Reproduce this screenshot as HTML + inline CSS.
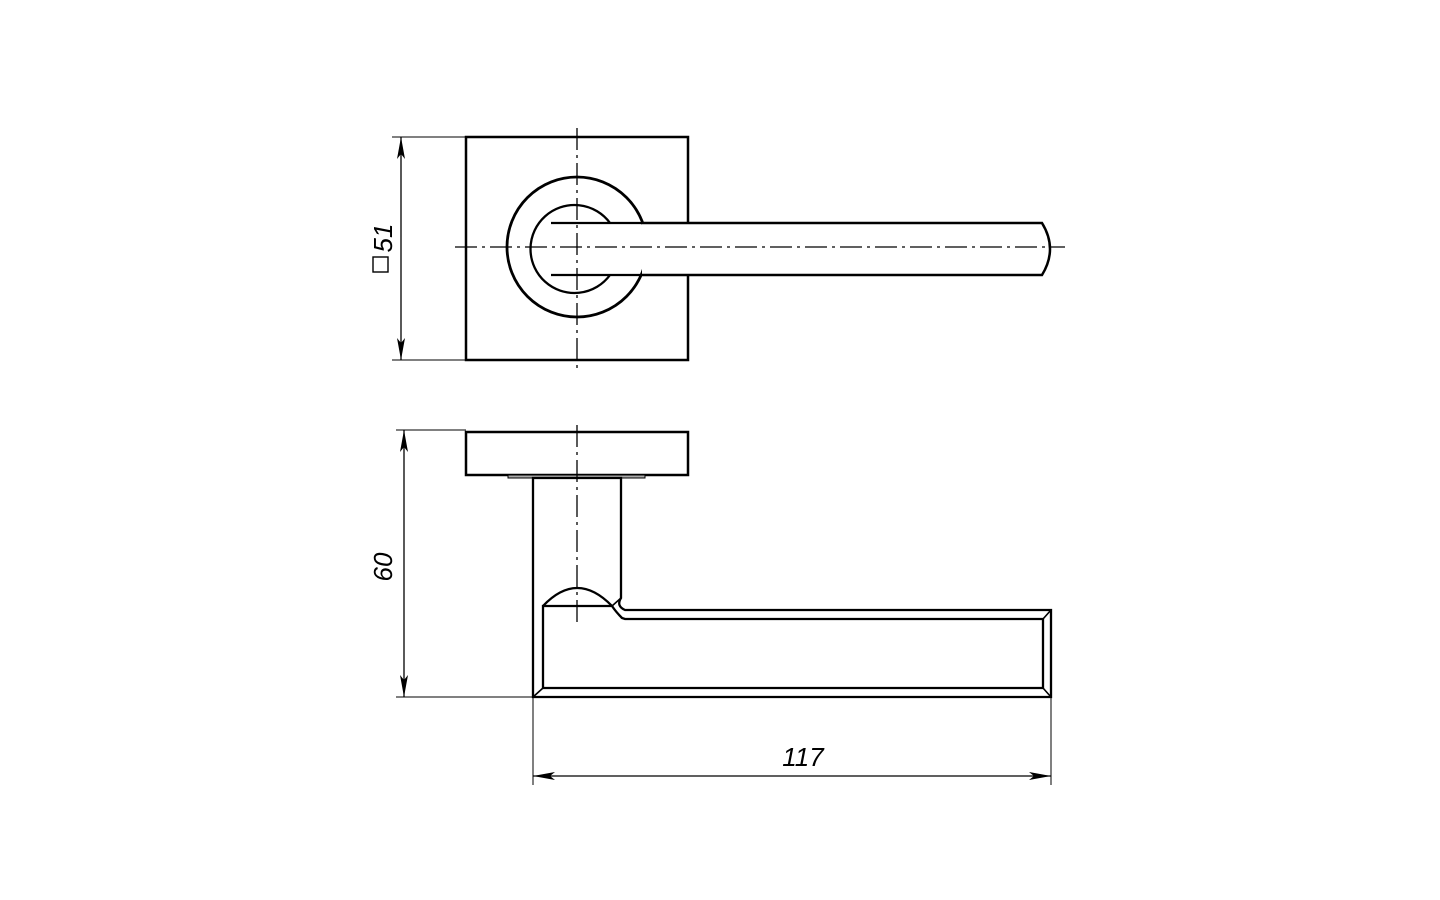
<!DOCTYPE html>
<html><head><meta charset="utf-8"><style>body{margin:0;background:#fff}svg{display:block}</style></head>
<body>
<svg width="1440" height="900" viewBox="0 0 1440 900" xmlns="http://www.w3.org/2000/svg">
<defs>
<marker id="a" viewBox="0 0 22 8" refX="22" refY="4" markerWidth="22" markerHeight="8" markerUnits="userSpaceOnUse" orient="auto-start-reverse"><path d="M0,0 L22,4 L0,8 L5,4Z" fill="#000"/></marker>
</defs>
<g fill="none" stroke="#000">
<!-- top view -->
<rect x="466" y="137" width="222" height="223" stroke-width="2.5" fill="#fff"/>
<circle cx="577" cy="247" r="70" stroke-width="2.8" fill="#fff"/>
<path d="M642,223 L1042,223 Q1058,249 1042,275 L642,275" stroke-width="2.5" fill="#fff"/>
<path d="M610,223 A44,44 0 1 0 610,275" stroke-width="2.3" fill="#fff"/>
<path d="M551,223 L642,223 M551,275 L642,275" stroke-width="2.3"/>
<path d="M455,247 L1065,247" stroke-width="1.3" stroke-dasharray="22,5,3,5"/>
<path d="M577,128 L577,370" stroke-width="1.3" stroke-dasharray="22,5,3,5"/>
<!-- dim 51 -->
<path d="M392,137 L466,137 M392,360 L466,360" stroke-width="1"/>
<path d="M401,137 L401,360" stroke-width="1.3" marker-start="url(#a)" marker-end="url(#a)"/>
<!-- side view -->
<rect x="466" y="432" width="222" height="43" stroke-width="2.5"/>
<rect x="508" y="475" width="137" height="3" stroke-width="1" fill="#aaa"/>
<path d="M533,478 L533,697 L1051,697 L1051,610 L625,610 Q616,606 621,598 L621,478 Z" stroke-width="2.3"/>
<path d="M543,688 L543,606 L612,606 Q616,612 622,618 L625,619 L1043,619 L1043,688 Z" stroke-width="2.3"/>
<path d="M543,606 Q577,570 612,606" stroke-width="2.3"/>
<path d="M533,697 L543,688 M1051,697 L1043,688 M1051,610 L1043,619 M612,606 L621,598" stroke-width="1.6"/>
<path d="M577,425 L577,625" stroke-width="1.3" stroke-dasharray="22,5,3,5"/>
<!-- dim 60 -->
<path d="M396,430 L466,430 M396,697 L533,697" stroke-width="1"/>
<path d="M404,430 L404,697" stroke-width="1.3" marker-start="url(#a)" marker-end="url(#a)"/>
<!-- dim 117 -->
<path d="M533,697 L533,785 M1051,697 L1051,785" stroke-width="1"/>
<path d="M533,776 L1051,776" stroke-width="1.3" marker-start="url(#a)" marker-end="url(#a)"/>
</g>
<g font-family="Liberation Sans, sans-serif" font-style="italic" font-size="26" fill="#000">
<text transform="translate(392,238) rotate(-90)" text-anchor="middle">51</text>
<rect x="373" y="257" width="15" height="15" fill="none" stroke="#000" stroke-width="1.4"/>
<text transform="translate(392,567) rotate(-90)" text-anchor="middle">60</text>
<text x="803" y="766" text-anchor="middle">117</text>
</g>
</svg>
</body></html>
